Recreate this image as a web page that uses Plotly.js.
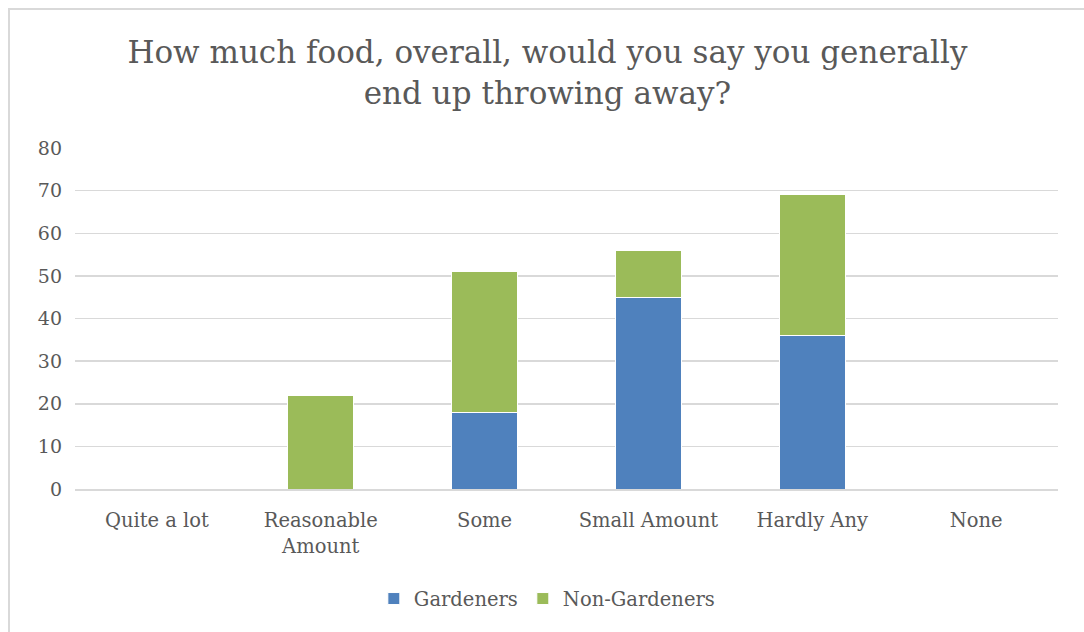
<!DOCTYPE html>
<html>
<head>
<meta charset="utf-8">
<script src="https://cdn.plot.ly/plotly-3.0.1.min.js"></script>
<style>
html,body{margin:0;padding:0;width:1084px;height:632px;overflow:hidden;background:#fff;}
#chart{position:absolute;left:0;top:0;width:1084px;height:632px;}
#frame{position:absolute;left:8px;top:8px;width:1200px;height:800px;border:2px solid #d9d9d9;pointer-events:none;}
</style>
</head>
<body>
<div id="chart"></div>
<div id="frame"></div>
<script>
const categories = ["Quite a lot", "Reasonable<br>Amount", "Some", "Small Amount", "Hardly Any", "None"];
const gardeners = [0, 0, 18, 45, 36, 0];
const nonGardeners = [0, 22, 33, 11, 33, 0];
const yTicks = [0, 10, 20, 30, 40, 50, 60, 70, 80];

const FONT = "'DejaVu Serif', 'Liberation Serif', serif";
const GRAY = "#595959";

const traces = [
  {type: "bar", name: "Gardeners", x: categories, y: gardeners,
   marker: {color: "#4F81BD", line: {color: "#ffffff", width: 1}}, hoverinfo: "none"},
  {type: "bar", name: "Non-Gardeners", x: categories, y: nonGardeners,
   marker: {color: "#9BBB59", line: {color: "#ffffff", width: 1}}, hoverinfo: "none"}
];

const layout = {
  width: 1084, height: 632,
  margin: {l: 75, r: 26, t: 148, b: 143},
  paper_bgcolor: "rgba(0,0,0,0)", plot_bgcolor: "rgba(0,0,0,0)",
  barmode: "stack", bargap: 0.6,
  font: {family: FONT, color: GRAY, size: 19},
  title: {text: "How much food, overall, would you say you generally<br>end up throwing away?",
          font: {family: FONT, size: 31, color: GRAY, lineposition: "none"}, x: 0.505, xanchor: "center", y: 0.9, yanchor: "top"},
  xaxis: {type: "category", tickfont: {size: 19.5, family: FONT, color: GRAY}, ticks: "", showgrid: false,
          showline: true, linecolor: "#d9d9d9", linewidth: 2, ticklabelstandoff: 13, fixedrange: true},
  yaxis: {range: [0, 80], tickvals: yTicks, ticks: "", showgrid: true, gridcolor: "#d9d9d9", gridwidth: 1.5,
          zeroline: false, showline: false, tickfont: {size: 19, family: FONT, color: GRAY}, ticklabelstandoff: 12, fixedrange: true},
  legend: {orientation: "h", x: 0.48, xanchor: "center", y: -0.265, yanchor: "top",
           font: {size: 19.5, family: FONT, color: GRAY}, traceorder: "normal"},
  showlegend: true
};

Plotly.newPlot("chart", traces, layout, {displayModeBar: false, staticPlot: true});
</script>
</body>
</html>
